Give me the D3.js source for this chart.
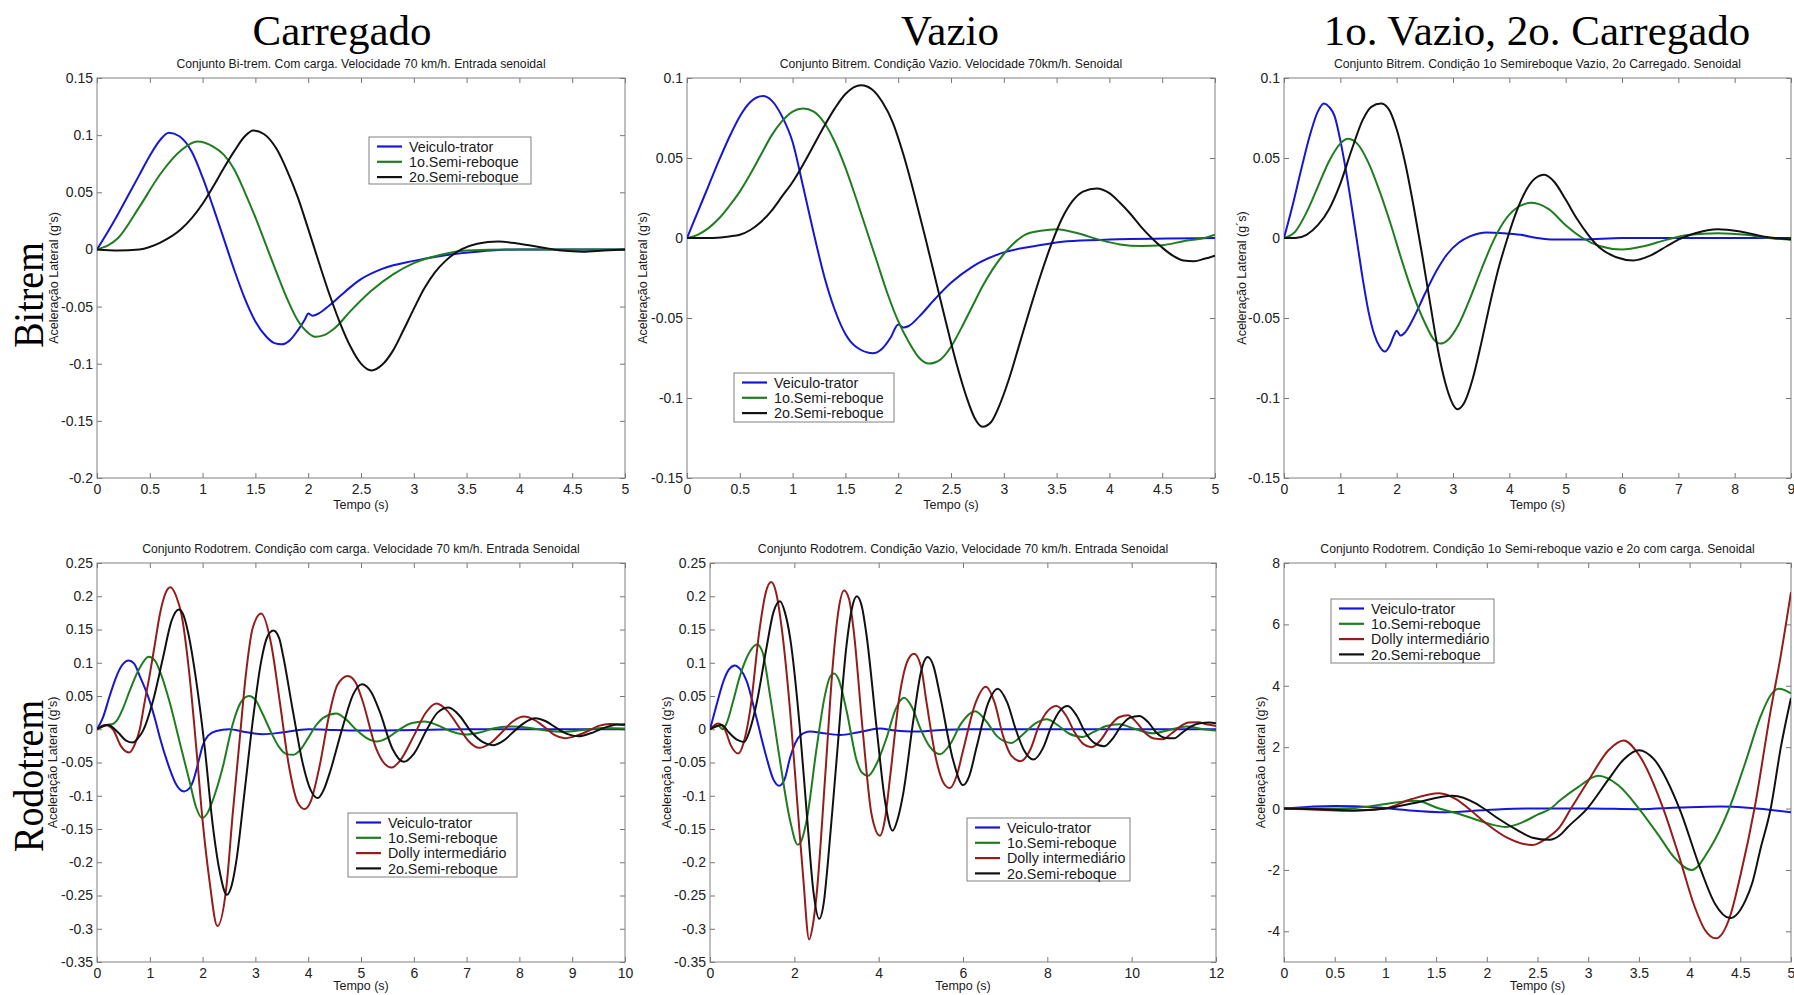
<!DOCTYPE html>
<html>
<head>
<meta charset="utf-8">
<script src="https://cdn.jsdelivr.net/npm/d3@7"></script>
<style>
  body { margin: 0; background: #fff; }
  svg { display: block; font-family: Arial, "Liberation Sans", Helvetica, sans-serif; }
</style>
</head>
<body>
<svg id="chart" width="1794" height="995"></svg>
<script>
// series names and colours
const seriesNames = ["Veiculo-trator", "1o.Semi-reboque", "Dolly intermediário", "2o.Semi-reboque"];
const seriesColors = ["#1616d6", "#1f7d1f", "#931c1c", "#111111"];

const columnTitles = ["Carregado", "Vazio", "1o. Vazio, 2o. Carregado"];
const rowTitles = ["Bitrem", "Rodotrem"];

// tick values
const xTicksHalf5 = [0, 0.5, 1, 1.5, 2, 2.5, 3, 3.5, 4, 4.5, 5];
const xTicks9 = [0, 1, 2, 3, 4, 5, 6, 7, 8, 9];
const xTicks10 = [0, 1, 2, 3, 4, 5, 6, 7, 8, 9, 10];
const xTicks12 = [0, 2, 4, 6, 8, 10, 12];
const yTicksBitremCarregado = [-0.2, -0.15, -0.1, -0.05, 0, 0.05, 0.1, 0.15];
const yTicksBitrem = [-0.15, -0.1, -0.05, 0, 0.05, 0.1];
const yTicksRodotrem = [-0.35, -0.3, -0.25, -0.2, -0.15, -0.1, -0.05, 0, 0.05, 0.1, 0.15, 0.2, 0.25];
const yTicksRodotremMisto = [-4, -2, 0, 2, 4, 6, 8];

// Bitrem, carregado  [tempo, aceleracao]
const bcTrator = [[0,0],[0.1,0.015],[0.2,0.031],[0.3,0.048],[0.4,0.065],[0.5,0.082],[0.6,0.096],[0.68,0.102],[0.78,0.099],[0.9,0.085],[1.0,0.063],[1.1,0.037],[1.22,0.004],[1.3,-0.018],[1.4,-0.043],[1.5,-0.063],[1.6,-0.076],[1.68,-0.082],[1.75,-0.083],[1.82,-0.08],[1.9,-0.071],[1.97,-0.061],[2.0,-0.056],[2.04,-0.058],[2.1,-0.056],[2.2,-0.049],[2.3,-0.041],[2.4,-0.033],[2.5,-0.026],[2.7,-0.017],[3.0,-0.01],[3.3,-0.005],[3.6,-0.002],[4.0,0],[5,0]];
const bcSemi1 = [[0,0],[0.2,0.01],[0.4,0.037],[0.6,0.066],[0.8,0.087],[0.95,0.0945],[1.1,0.09],[1.2,0.083],[1.3,0.07],[1.4,0.05],[1.5,0.028],[1.6,0.004],[1.7,-0.02],[1.8,-0.043],[1.9,-0.062],[2.0,-0.073],[2.07,-0.0765],[2.15,-0.075],[2.25,-0.069],[2.4,-0.054],[2.6,-0.036],[2.8,-0.022],[3.0,-0.012],[3.2,-0.006],[3.5,-0.001],[4,0],[5,0]];
const bcSemi2 = [[0,0],[0.2,-0.001],[0.4,0],[0.6,0.006],[0.8,0.018],[1.0,0.04],[1.1,0.055],[1.2,0.071],[1.3,0.086],[1.4,0.099],[1.48,0.104],[1.58,0.101],[1.7,0.088],[1.8,0.069],[1.9,0.046],[2.0,0.018],[2.1,-0.011],[2.2,-0.039],[2.3,-0.064],[2.4,-0.085],[2.5,-0.1],[2.6,-0.106],[2.7,-0.101],[2.8,-0.089],[2.9,-0.071],[3.0,-0.052],[3.1,-0.034],[3.2,-0.02],[3.3,-0.01],[3.45,0],[3.6,0.005],[3.8,0.007],[4.0,0.005],[4.2,0.002],[4.4,-0.001],[4.6,-0.002],[4.8,-0.001],[5,0]];

// Bitrem, vazio
const bvTrator = [[0,0],[0.1,0.016],[0.2,0.032],[0.3,0.048],[0.4,0.063],[0.5,0.076],[0.6,0.085],[0.72,0.0887],[0.8,0.086],[0.9,0.076],[1.0,0.06],[1.1,0.032],[1.2,0.003],[1.3,-0.024],[1.4,-0.045],[1.5,-0.06],[1.6,-0.068],[1.76,-0.072],[1.85,-0.069],[1.93,-0.062],[2.0,-0.054],[2.05,-0.056],[2.1,-0.055],[2.2,-0.049],[2.35,-0.038],[2.5,-0.028],[2.7,-0.018],[3.0,-0.009],[3.3,-0.005],[3.6,-0.002],[4.0,-0.001],[5,0]];
const bvSemi1 = [[0,0],[0.1,0.002],[0.2,0.006],[0.3,0.012],[0.4,0.02],[0.5,0.029],[0.6,0.04],[0.7,0.052],[0.8,0.064],[0.9,0.073],[1.0,0.079],[1.1,0.081],[1.2,0.079],[1.3,0.072],[1.4,0.06],[1.5,0.044],[1.6,0.025],[1.7,0.005],[1.8,-0.015],[1.9,-0.035],[2.0,-0.052],[2.1,-0.065],[2.2,-0.075],[2.29,-0.0785],[2.4,-0.076],[2.5,-0.068],[2.6,-0.056],[2.7,-0.043],[2.8,-0.03],[2.9,-0.019],[3.0,-0.01],[3.1,-0.003],[3.2,0.002],[3.35,0.0045],[3.5,0.0055],[3.7,0.003],[3.9,-0.001],[4.1,-0.004],[4.3,-0.005],[4.5,-0.0045],[4.7,-0.002],[4.9,0.0],[5,0.002]];
const bvSemi2 = [[0,0],[0.2,0],[0.4,0.001],[0.5,0.002],[0.6,0.005],[0.7,0.01],[0.8,0.017],[0.9,0.026],[1.0,0.035],[1.1,0.046],[1.2,0.058],[1.3,0.07],[1.4,0.081],[1.5,0.09],[1.65,0.0955],[1.75,0.093],[1.85,0.085],[1.95,0.072],[2.05,0.052],[2.15,0.028],[2.25,0.002],[2.35,-0.025],[2.45,-0.052],[2.55,-0.078],[2.65,-0.1],[2.72,-0.112],[2.8,-0.118],[2.88,-0.115],[2.95,-0.106],[3.05,-0.088],[3.15,-0.066],[3.25,-0.044],[3.35,-0.023],[3.45,-0.004],[3.55,0.012],[3.65,0.023],[3.75,0.029],[3.88,0.031],[4.0,0.028],[4.1,0.022],[4.2,0.015],[4.3,0.007],[4.4,0.0],[4.5,-0.006],[4.6,-0.011],[4.7,-0.014],[4.8,-0.0145],[4.9,-0.013],[5,-0.011]];

// Bitrem, 1o vazio 2o carregado
const bmTrator = [[0,0],[0.15,0.02],[0.3,0.042],[0.45,0.063],[0.6,0.079],[0.71,0.084],[0.8,0.082],[0.9,0.076],[1.0,0.061],[1.1,0.042],[1.2,0.02],[1.3,-0.003],[1.4,-0.026],[1.5,-0.046],[1.6,-0.06],[1.7,-0.068],[1.79,-0.071],[1.88,-0.067],[1.95,-0.061],[2.0,-0.058],[2.07,-0.061],[2.15,-0.059],[2.3,-0.05],[2.5,-0.035],[2.7,-0.021],[2.9,-0.01],[3.1,-0.003],[3.3,0.001],[3.6,0.0035],[3.9,0.003],[4.2,0.002],[4.5,0.0],[4.8,-0.001],[5.3,-0.001],[6,0],[9,0]];
const bmSemi1 = [[0,0],[0.2,0.004],[0.4,0.016],[0.6,0.032],[0.8,0.048],[1.0,0.059],[1.13,0.062],[1.3,0.059],[1.5,0.047],[1.7,0.029],[1.9,0.008],[2.1,-0.015],[2.3,-0.036],[2.5,-0.053],[2.65,-0.063],[2.78,-0.066],[2.9,-0.064],[3.1,-0.054],[3.3,-0.038],[3.5,-0.02],[3.7,-0.003],[3.9,0.01],[4.1,0.018],[4.4,0.022],[4.7,0.018],[5.0,0.008],[5.3,0.0],[5.6,-0.005],[6.0,-0.0072],[6.4,-0.005],[6.8,-0.001],[7.2,0.002],[7.7,0.003],[8.2,0.002],[8.6,0.0],[9,-0.001]];
const bmSemi2 = [[0,0],[0.2,0],[0.4,0.002],[0.6,0.008],[0.8,0.018],[1.0,0.034],[1.2,0.055],[1.4,0.074],[1.55,0.082],[1.72,0.084],[1.85,0.081],[2.0,0.068],[2.15,0.047],[2.3,0.02],[2.45,-0.01],[2.6,-0.042],[2.75,-0.073],[2.9,-0.095],[3.0,-0.104],[3.08,-0.107],[3.2,-0.103],[3.35,-0.088],[3.5,-0.066],[3.65,-0.042],[3.8,-0.02],[3.95,-0.002],[4.1,0.014],[4.3,0.03],[4.45,0.037],[4.62,0.0395],[4.8,0.035],[5.0,0.024],[5.2,0.012],[5.4,0.002],[5.6,-0.006],[5.9,-0.012],[6.2,-0.014],[6.5,-0.011],[6.8,-0.005],[7.0,-0.001],[7.3,0.003],[7.7,0.0055],[8.1,0.004],[8.5,0.001],[9,-0.001]];

// Rodotrem, carregado
const rcTrator = [[0,0],[0.11,0.017],[0.24,0.05],[0.37,0.08],[0.48,0.097],[0.6,0.1035],[0.7,0.099],[0.81,0.08],[1.0,0.042],[1.1,0.015],[1.19,-0.0125],[1.37,-0.058],[1.5,-0.083],[1.65,-0.0935],[1.75,-0.089],[1.82,-0.078],[1.94,-0.043],[2.0,-0.025],[2.1,-0.01],[2.26,-0.0025],[2.5,0],[2.8,-0.004],[3.14,-0.0075],[3.5,-0.005],[4.0,0],[4.5,-0.001],[5.0,-0.002],[6,-0.001],[7,0],[10,0]];
const rcSemi1 = [[0,0],[0.18,0.0065],[0.3,0.008],[0.37,0.0125],[0.5,0.033],[0.62,0.058],[0.81,0.0925],[0.98,0.109],[1.1,0.103],[1.19,0.0875],[1.37,0.0425],[1.56,-0.0175],[1.75,-0.0775],[1.88,-0.118],[1.99,-0.1335],[2.1,-0.125],[2.19,-0.1075],[2.38,-0.0575],[2.57,0.0075],[2.72,0.04],[2.88,0.05],[3.0,0.044],[3.14,0.0225],[3.3,-0.005],[3.45,-0.027],[3.58,-0.037],[3.71,-0.0385],[3.85,-0.031],[4.0,-0.013],[4.15,0.006],[4.3,0.018],[4.53,0.0235],[4.7,0.016],[4.9,0.0],[5.1,-0.013],[5.3,-0.0185],[5.5,-0.013],[5.7,-0.002],[5.95,0.009],[6.2,0.0115],[6.45,0.006],[6.7,-0.003],[7.0,-0.008],[7.25,-0.005],[7.5,0.001],[7.85,0.004],[8.2,0.002],[8.5,-0.002],[8.85,-0.004],[9.2,-0.001],[9.6,0.002],[10,0.001]];
const rcDolly = [[0,0],[0.15,0.0065],[0.3,0.0],[0.45,-0.025],[0.61,-0.035],[0.72,-0.022],[0.81,0.0],[0.9,0.04],[1.0,0.0825],[1.1,0.13],[1.19,0.1725],[1.3,0.205],[1.39,0.2135],[1.5,0.2],[1.6,0.1725],[1.75,0.0825],[1.88,-0.0275],[2.0,-0.1375],[2.13,-0.2275],[2.28,-0.296],[2.45,-0.2375],[2.57,-0.1275],[2.7,-0.0175],[2.82,0.0825],[2.95,0.1525],[3.11,0.174],[3.3,0.1275],[3.46,0.0425],[3.64,-0.0575],[3.8,-0.11],[3.93,-0.12],[4.05,-0.108],[4.21,-0.0575],[4.4,0.0225],[4.55,0.066],[4.75,0.08],[4.9,0.07],[5.03,0.0425],[5.28,-0.0275],[5.45,-0.052],[5.58,-0.0576],[5.75,-0.046],[6.0,-0.01],[6.22,0.024],[6.43,0.0386],[6.63,0.028],[6.84,0.005],[7.04,-0.018],[7.24,-0.028],[7.45,-0.021],[7.67,-0.0045],[7.88,0.012],[8.09,0.019],[8.28,0.014],[8.48,0.003],[8.67,-0.009],[8.86,-0.0135],[9.07,-0.01],[9.29,-0.003],[9.5,0.005],[9.71,0.008],[10,0.006]];
const rcSemi2 = [[0,0],[0.21,0.0065],[0.4,-0.005],[0.55,-0.017],[0.68,-0.02],[0.78,-0.013],[0.87,-0.0025],[1.06,0.0425],[1.25,0.1075],[1.41,0.1625],[1.55,0.18],[1.63,0.173],[1.72,0.1475],[1.88,0.0725],[2.04,-0.0275],[2.19,-0.1425],[2.32,-0.2125],[2.46,-0.249],[2.55,-0.235],[2.64,-0.1975],[2.79,-0.0975],[2.95,0.0125],[3.11,0.1025],[3.22,0.138],[3.34,0.1485],[3.45,0.137],[3.52,0.1125],[3.71,0.0275],[3.9,-0.0525],[4.05,-0.092],[4.18,-0.1035],[4.3,-0.09],[4.4,-0.0675],[4.65,0.0025],[4.85,0.052],[5.02,0.0675],[5.2,0.055],[5.35,0.0275],[5.6,-0.03],[5.81,-0.049],[6.0,-0.037],[6.25,0.0],[6.45,0.025],[6.66,0.0326],[6.87,0.02],[7.08,-0.003],[7.3,-0.019],[7.5,-0.024],[7.7,-0.017],[7.9,-0.003],[8.1,0.01],[8.3,0.0165],[8.5,0.012],[8.7,0.002],[8.9,-0.007],[9.12,-0.0105],[9.35,-0.006],[9.6,0.002],[9.85,0.007],[10,0.0075]];

// Rodotrem, vazio
const rvTrator = [[0,0],[0.16,0.0375],[0.32,0.0725],[0.45,0.09],[0.59,0.096],[0.72,0.09],[0.87,0.0725],[1.1,0.0175],[1.34,-0.0425],[1.5,-0.075],[1.64,-0.085],[1.77,-0.075],[1.9,-0.0425],[2.13,-0.01],[2.37,-0.0035],[2.7,-0.006],[3.08,-0.0085],[3.5,-0.005],[4.03,0.001],[4.4,-0.002],[4.82,-0.0035],[5.5,-0.001],[6.0,0],[8,0],[12,0]];
const rvSemi1 = [[0,0],[0.2,0.005],[0.3,0.0],[0.4,0.01],[0.55,0.0425],[0.7,0.078],[0.87,0.1075],[1.0,0.122],[1.12,0.1275],[1.25,0.115],[1.42,0.0525],[1.66,-0.0475],[1.9,-0.1375],[2.08,-0.1735],[2.15,-0.17],[2.29,-0.1375],[2.53,-0.0275],[2.73,0.0525],[2.84,0.078],[2.94,0.084],[3.05,0.075],[3.24,0.0275],[3.48,-0.0475],[3.6,-0.065],[3.75,-0.07],[3.95,-0.052],[4.19,-0.0125],[4.4,0.03],[4.6,0.0475],[4.8,0.032],[4.98,0.0025],[5.22,-0.027],[5.45,-0.0375],[5.7,-0.022],[5.95,0.008],[6.29,0.027],[6.55,0.012],[6.8,-0.01],[7.14,-0.0205],[7.45,-0.006],[7.7,0.008],[7.99,0.015],[8.25,0.006],[8.5,-0.006],[8.83,-0.0115],[9.1,-0.004],[9.4,0.005],[9.7,0.0075],[10.1,0.0],[10.5,-0.006],[10.9,-0.001],[11.3,0.004],[11.7,0.0],[12,-0.002]];
const rvDolly = [[0,0],[0.2,0.0085],[0.35,0.0],[0.5,-0.025],[0.67,-0.0365],[0.8,-0.02],[0.95,0.0275],[1.18,0.1525],[1.32,0.205],[1.45,0.2215],[1.57,0.205],[1.7,0.1525],[1.9,0.0275],[2.09,-0.1275],[2.21,-0.2225],[2.35,-0.316],[2.45,-0.29],[2.53,-0.2475],[2.73,-0.0725],[2.92,0.1025],[3.05,0.18],[3.18,0.2085],[3.3,0.195],[3.4,0.1525],[3.63,-0.0075],[3.83,-0.1275],[4.03,-0.16],[4.15,-0.135],[4.27,-0.0725],[4.5,0.0525],[4.7,0.105],[4.84,0.1135],[5.0,0.095],[5.13,0.0425],[5.37,-0.0475],[5.55,-0.082],[5.69,-0.0885],[5.85,-0.07],[6.0,-0.0325],[6.3,0.04],[6.54,0.064],[6.75,0.04],[6.95,-0.01],[7.15,-0.04],[7.37,-0.048],[7.6,-0.03],[7.8,0.005],[8.0,0.027],[8.22,0.035],[8.45,0.02],[8.65,-0.005],[8.85,-0.022],[9.05,-0.027],[9.28,-0.015],[9.5,0.006],[9.7,0.018],[9.91,0.021],[10.12,0.01],[10.33,-0.006],[10.53,-0.014],[10.74,-0.015],[10.95,-0.006],[11.15,0.004],[11.35,0.01],[11.57,0.0105],[11.8,0.007],[12,0.005]];
const rvSemi2 = [[0,0],[0.28,0.0065],[0.45,-0.005],[0.65,-0.016],[0.81,-0.019],[0.95,0.0],[1.1,0.0375],[1.34,0.1225],[1.5,0.175],[1.66,0.1925],[1.78,0.175],[1.9,0.1375],[2.13,0.0025],[2.29,-0.1225],[2.45,-0.2425],[2.59,-0.285],[2.7,-0.26],[2.8,-0.1975],[3.0,-0.0475],[3.24,0.1275],[3.36,0.18],[3.48,0.2],[3.6,0.185],[3.71,0.1425],[3.95,0.0025],[4.15,-0.1075],[4.33,-0.1525],[4.45,-0.135],[4.58,-0.0975],[4.82,0.0125],[5.0,0.085],[5.16,0.1085],[5.3,0.095],[5.45,0.0525],[5.77,-0.0475],[6.0,-0.084],[6.15,-0.07],[6.32,-0.0275],[6.6,0.04],[6.82,0.061],[7.05,0.04],[7.25,0.0],[7.45,-0.032],[7.67,-0.0456],[7.9,-0.028],[8.1,0.005],[8.3,0.028],[8.48,0.035],[8.7,0.02],[8.9,-0.005],[9.1,-0.02],[9.34,-0.0256],[9.55,-0.014],[9.75,0.005],[9.95,0.017],[10.18,0.02],[10.4,0.01],[10.6,-0.006],[10.8,-0.013],[11.01,-0.0135],[11.2,-0.005],[11.4,0.004],[11.62,0.009],[11.84,0.01],[12,0.009]];

// Rodotrem, 1o vazio 2o com carga
const rmTrator = [[0,0],[0.5,0.08],[0.9,0.04],[1.2,-0.05],[1.6,-0.12],[2.0,-0.05],[2.4,0.0],[3.0,0.0],[3.5,-0.02],[3.9,0.03],[4.3,0.065],[4.6,0.02],[5,-0.12]];
const rmSemi1 = [[0,0],[0.4,0.0],[0.7,0.02],[1.0,0.15],[1.3,0.25],[1.53,0.0],[1.75,-0.2],[1.95,-0.42],[2.18,-0.6],[2.35,-0.45],[2.5,-0.2],[2.63,0.0],[2.72,0.26],[2.9,0.7],[3.1,1.07],[3.3,0.75],[3.5,0.0],[3.7,-0.9],[3.85,-1.6],[4.02,-2.0],[4.2,-1.3],[4.39,0.0],[4.55,1.5],[4.7,3.0],[4.8,3.7],[4.88,3.9],[5,3.75]];
const rmDolly = [[0,0],[0.35,-0.04],[0.65,-0.075],[0.85,-0.04],[1.0,0.0],[1.25,0.3],[1.53,0.5],[1.7,0.3],[1.82,0.0],[2.0,-0.5],[2.2,-0.95],[2.45,-1.19],[2.6,-0.95],[2.72,-0.6],[2.83,0.0],[3.0,0.9],[3.2,1.9],[3.35,2.22],[3.5,1.75],[3.74,0.0],[3.9,-1.6],[4.05,-3.2],[4.15,-3.95],[4.26,-4.23],[4.4,-3.5],[4.5,-2.2],[4.64,0.0],[4.8,3.2],[4.9,5.0],[5,7.05]];
const rmSemi2 = [[0,0],[0.35,-0.02],[0.7,-0.06],[1.0,0.0],[1.3,0.19],[1.66,0.42],[1.9,0.15],[1.97,0.0],[2.1,-0.3],[2.3,-0.7],[2.45,-0.95],[2.62,-1.02],[2.72,-0.87],[2.8,-0.6],[2.99,0.0],[3.2,0.95],[3.35,1.6],[3.5,1.9],[3.65,1.6],[3.9,0.0],[4.1,-1.9],[4.25,-3.1],[4.4,-3.57],[4.55,-3.0],[4.62,-2.4],[4.7,-1.3],[4.8,0.0],[4.9,2.0],[5,3.6]];

const svg = d3.select("#chart");

// one entry per subplot (layout only)
const panels = [
    { sub: "Conjunto Bi-trem. Com carga. Velocidade 70 km/h. Entrada senoidal", ylabel: "Aceleração Lateral (g's)",
      box: [97, 78, 625, 478], xd: [0, 5], yd: [-0.2, 0.15], xt: xTicksHalf5, yt: yTicksBitremCarregado,
      series: [bcTrator, bcSemi1, null, bcSemi2], legend: [369, 137, 162, 47], yOff: 43, xOff: 31 },
    { sub: "Conjunto Bitrem. Condição Vazio. Velocidade 70km/h. Senoidal", ylabel: "Aceleração Lateral (g's)",
      box: [687, 78, 1215, 478], xd: [0, 5], yd: [-0.15, 0.1], xt: xTicksHalf5, yt: yTicksBitrem,
      series: [bvTrator, bvSemi1, null, bvSemi2], legend: [734, 373, 160, 49], yOff: 44, xOff: 31 },
    { sub: "Conjunto Bitrem. Condição 1o Semireboque Vazio, 2o Carregado. Senoidal", ylabel: "Aceleração Lateral (g´s)",
      box: [1284, 78, 1791, 478], xd: [0, 9], yd: [-0.15, 0.1], xt: xTicks9, yt: yTicksBitrem,
      series: [bmTrator, bmSemi1, null, bmSemi2], legend: null, yOff: 42, xOff: 31 },
    { sub: "Conjunto Rodotrem. Condição com carga. Velocidade 70 km/h. Entrada Senoidal", ylabel: "Aceleração Lateral (g's)",
      box: [97, 563, 625, 962], xd: [0, 10], yd: [-0.35, 0.25], xt: xTicks10, yt: yTicksRodotrem,
      series: [rcTrator, rcSemi1, rcDolly, rcSemi2], legend: [348, 813, 169, 64], yOff: 44, xOff: 28 },
    { sub: "Conjunto Rodotrem. Condição Vazio, Velocidade 70 km/h. Entrada Senoidal", ylabel: "Aceleração Lateral (g's)",
      box: [710, 563, 1216, 962], xd: [0, 12], yd: [-0.35, 0.25], xt: xTicks12, yt: yTicksRodotrem,
      series: [rvTrator, rvSemi1, rvDolly, rvSemi2], legend: [967, 818, 163, 63], yOff: 43, xOff: 28 },
    { sub: "Conjunto Rodotrem. Condição 1o Semi-reboque vazio e 2o com carga. Senoidal", ylabel: "Aceleração Lateral (g's)",
      box: [1284, 563, 1791, 962], xd: [0, 5], yd: [-5, 8], xt: xTicksHalf5, yt: yTicksRodotremMisto,
      series: [rmTrator, rmSemi1, rmDolly, rmSemi2], legend: [1331, 599, 163, 64], yOff: 23, xOff: 28 }
];

const fmt = d => String(+d.toFixed(2));

panels.forEach((p, i) => {
    const [x0, y0, x1, y1] = p.box;
    const w = x1 - x0, h = y1 - y0;
    const g = svg.append("g").attr("transform", `translate(${x0},${y0})`);

    const x = d3.scaleLinear().domain(p.xd).range([0, w]);
    const y = d3.scaleLinear().domain(p.yd).range([h, 0]);

    g.append("clipPath").attr("id", "clip" + i)
        .append("rect").attr("width", w).attr("height", h);

    // axes, MATLAB style: ticks inside on all four sides
    g.append("g").attr("transform", `translate(0,${h})`)
        .call(d3.axisBottom(x).tickValues(p.xt).tickFormat(fmt).tickSizeInner(-5).tickSizeOuter(0).tickPadding(6));
    g.append("g")
        .call(d3.axisLeft(y).tickValues(p.yt).tickFormat(fmt).tickSizeInner(-5).tickSizeOuter(0).tickPadding(4));
    g.append("g")
        .call(d3.axisTop(x).tickValues(p.xt).tickFormat("").tickSizeInner(-5).tickSizeOuter(0));
    g.append("g").attr("transform", `translate(${w},0)`)
        .call(d3.axisRight(y).tickValues(p.yt).tickFormat("").tickSizeInner(-5).tickSizeOuter(0));

    g.selectAll(".domain").remove();
    g.selectAll(".tick line").attr("stroke", "#777");
    g.selectAll(".tick text")
        .attr("fill", "#222")
        .style("font-size", "14px")
        .style("font-family", "Arial, 'Liberation Sans', sans-serif");

    g.append("rect")
        .attr("width", w).attr("height", h)
        .attr("fill", "none").attr("stroke", "#808080").attr("stroke-width", 1);

    // curves
    const line = d3.line()
        .x(d => x(d[0]))
        .y(d => y(d[1]))
        .curve(d3.curveMonotoneX);

    p.series.forEach((s, k) => {
        if (!s) return;
        g.append("path")
            .datum(s)
            .attr("clip-path", `url(#clip${i})`)
            .attr("fill", "none")
            .attr("stroke", seriesColors[k])
            .attr("stroke-width", 2)
            .attr("d", line);
    });

    // subtitle and axis labels
    g.append("text")
        .attr("x", w / 2).attr("y", -10)
        .attr("text-anchor", "middle")
        .style("font-size", "12.2px")
        .attr("fill", "#1a1a1a")
        .text(p.sub);

    g.append("text")
        .attr("x", w / 2).attr("y", h + p.xOff)
        .attr("text-anchor", "middle")
        .style("font-size", "12.5px")
        .attr("fill", "#1a1a1a")
        .text("Tempo (s)");

    g.append("text")
        .attr("transform", `translate(${-p.yOff + 4},${h / 2}) rotate(-90)`)
        .attr("text-anchor", "middle")
        .style("font-size", "12.5px")
        .attr("fill", "#1a1a1a")
        .text(p.ylabel);

    // legend
    if (p.legend) {
        const [lx, ly, lw, lh] = p.legend;
        const leg = svg.append("g").attr("transform", `translate(${lx},${ly})`);
        leg.append("rect")
            .attr("width", lw).attr("height", lh)
            .attr("fill", "#fff").attr("stroke", "#808080");
        const items = p.series.map((s, k) => s ? k : -1).filter(k => k >= 0);
        items.forEach((k, j) => {
            const cy = 9.5 + j * 15.3;
            leg.append("line")
                .attr("x1", 8).attr("x2", 33).attr("y1", cy).attr("y2", cy)
                .attr("stroke", seriesColors[k]).attr("stroke-width", 2.2);
            leg.append("text")
                .attr("x", 40).attr("y", cy)
                .attr("dy", "0.36em")
                .style("font-size", "14.3px")
                .attr("fill", "#1a1a1a")
                .text(seriesNames[k]);
        });
    }
});

// column and row titles
const titleX = [342, 950, 1537];
columnTitles.forEach((t, i) => {
    svg.append("text")
        .attr("x", titleX[i]).attr("y", 45)
        .attr("text-anchor", "middle")
        .style("font-family", "'Liberation Serif', 'Times New Roman', serif")
        .style("font-size", "43px")
        .text(t);
});

const rowY = [295, 776];
rowTitles.forEach((t, i) => {
    svg.append("text")
        .attr("transform", `translate(43,${rowY[i]}) rotate(-90) scale(1,1.13)`)
        .attr("text-anchor", "middle")
        .style("font-family", "'Liberation Serif', 'Times New Roman', serif")
        .style("font-size", "38px")
        .text(t);
});
</script>
</body>
</html>
